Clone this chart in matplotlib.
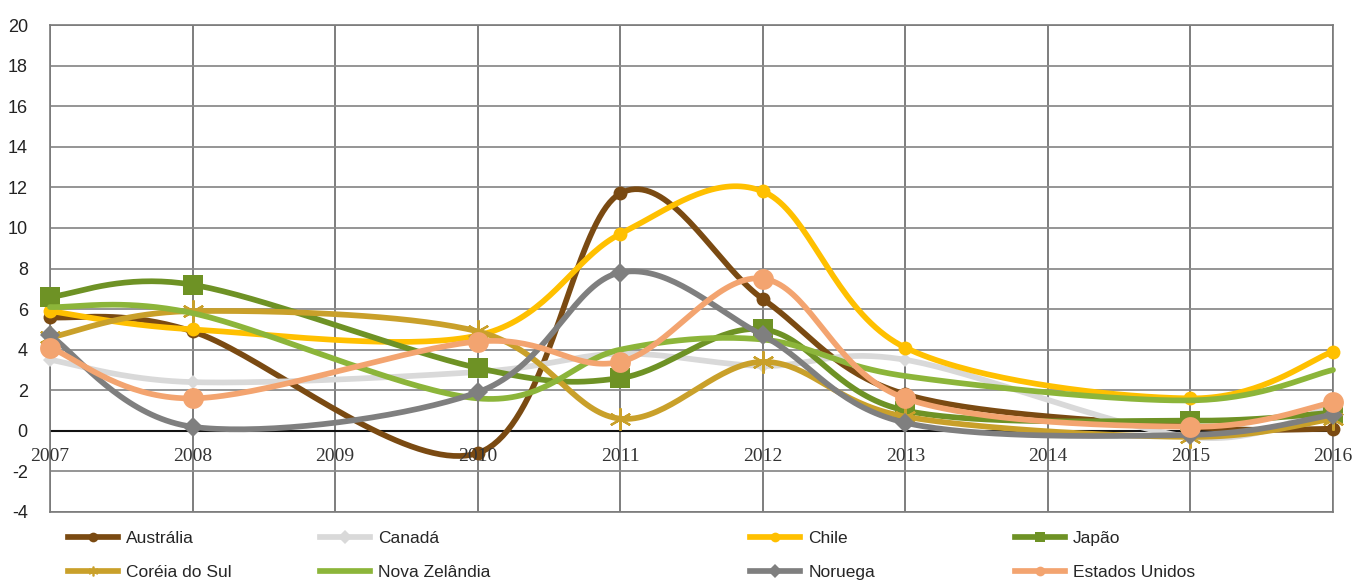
import numpy as np
import matplotlib
matplotlib.use('Agg')
import matplotlib.pyplot as plt
from matplotlib.lines import Line2D

plt.rcParams['font.family'] = ['Liberation Sans', 'DejaVu Sans']
plt.rcParams['axes.unicode_minus'] = False

# anos com dados (2009 e 2014 sem valor)
years = [2007, 2008, 2010, 2011, 2012, 2013, 2015, 2016]
year_labels = [str(y) for y in range(2007, 2017)]

australia = [5.6, 4.9, -1.1, 11.7, 6.5, 1.8, 0.2, 0.1]
canada = [3.5, 2.4, 2.9, 3.8, 3.2, 3.5, -0.3, 1.2]
chile = [5.9, 5.0, 4.7, 9.7, 11.8, 4.1, 1.6, 3.9]
japao = [6.6, 7.2, 3.1, 2.6, 5.0, 1.0, 0.5, 0.9]
coreia = [4.6, 5.9, 4.9, 0.6, 3.4, 0.7, -0.3, 0.6]
nova_zelandia = [6.1, 5.8, 1.6, 4.0, 4.5, 2.7, 1.5, 3.0]
noruega = [4.7, 0.2, 1.9, 7.8, 4.7, 0.4, -0.2, 0.8]
eua = [4.1, 1.6, 4.4, 3.4, 7.5, 1.6, 0.2, 1.4]

series = [
    ('Austrália', australia, '#7a4a12', 'o', 10),
    ('Canadá', canada, '#d9d9d9', 'D', 7),
    ('Chile', chile, '#ffc000', 'o', 10),
    ('Japão', japao, '#6e9225', 's', 15),
    ('Coréia do Sul', coreia, '#c9a02a', (6, 2, 0), 16),
    ('Nova Zelândia', nova_zelandia, '#8cb53a', None, 0),
    ('Noruega', noruega, '#7f7f7f', 'D', 10),
    ('Estados Unidos', eua, '#f3a470', 'o', 15),
]

SX, SY = 142.6, 20.3  # px por ano / px por unidade


def smooth(xs, ys, n=40):
    # curva suavizada tipo Excel (Bezier cardinal, tensao 1/6)
    P = np.column_stack([np.asarray(xs, float) * SX, np.asarray(ys, float) * SY])
    out = []
    t = np.linspace(0, 1, n)[:, None]
    for i in range(len(P) - 1):
        p0 = P[i - 1] if i > 0 else P[i]
        p1, p2 = P[i], P[i + 1]
        p3 = P[i + 2] if i + 2 < len(P) else P[i + 1]
        c1 = p1 + (p2 - p0) / 6
        c2 = p2 - (p3 - p1) / 6
        seg = ((1 - t) ** 3) * p1 + 3 * ((1 - t) ** 2) * t * c1 + 3 * (1 - t) * t ** 2 * c2 + t ** 3 * p2
        out.append(seg if i == 0 else seg[1:])
    c = np.vstack(out)
    return c[:, 0] / SX, c[:, 1] / SY


fig = plt.figure(figsize=(13.65, 5.83), dpi=100)
ax = fig.add_axes([50 / 1365, 1 - 512 / 583, 1283 / 1365, 487 / 583])

ax.set_xlim(2007, 2016)
ax.set_ylim(-4, 20)
ax.set_yticks(range(-4, 21, 2))
ax.set_xticks(range(2007, 2017))
ax.set_xticklabels([])
ax.tick_params(length=0)
ax.tick_params(axis='y', pad=16, labelsize=13, labelcolor='#222222')
ax.grid(axis='y', color='#8c8c8c', lw=1.3)
ax.grid(axis='x', color='#5a5a5a', lw=1.1)
ax.set_axisbelow(True)
for s in ax.spines.values():
    s.set_color('#7a7a7a')
    s.set_linewidth(1.2)
ax.axhline(0, color='#111111', lw=1.5, zorder=1)

for name, vals, col, mk, ms in series:
    sx, sy = smooth(years, vals)
    ax.plot(sx, sy, color=col, lw=4.1, solid_capstyle='round', zorder=3, clip_on=False)
    if mk is not None:
        mew = 1.6 if mk == (6, 2, 0) else 0
        ax.plot(years, vals, ls='none', marker=mk, ms=ms, color=col, mec=col, mew=mew,
                zorder=3, clip_on=False)

for lbl in year_labels:
    ax.text(int(lbl), -1.25, lbl, ha='center', va='center', fontsize=14,
            family='Liberation Serif', color='#333333', zorder=4)

# legenda em quatro colunas
handles = {}
for name, vals, col, mk, ms in series:
    handles[name] = Line2D([], [], color=col, lw=4.1, marker=mk,
                           ms=7 if mk is not None else 0, mec=col,
                           mew=1.2 if mk == (6, 2, 0) else 0)

columns = [('Austrália', 'Coréia do Sul'), ('Canadá', 'Nova Zelândia'),
           ('Chile', 'Noruega'), ('Japão', 'Estados Unidos')]
col_x = [68, 320, 750, 1015]
for (a, b), x in zip(columns, col_x):
    leg = fig.legend([handles[a], handles[b]], [a, b], loc='upper left',
                     bbox_to_anchor=(x / 1365, 1 - 531 / 583), frameon=False,
                     fontsize=12.5, handlelength=2.9, handletextpad=0.45,
                     labelspacing=1.1, borderpad=0, borderaxespad=0)
    for t in leg.get_texts():
        t.set_color('#262626')

fig.savefig('out.png', dpi=100)
